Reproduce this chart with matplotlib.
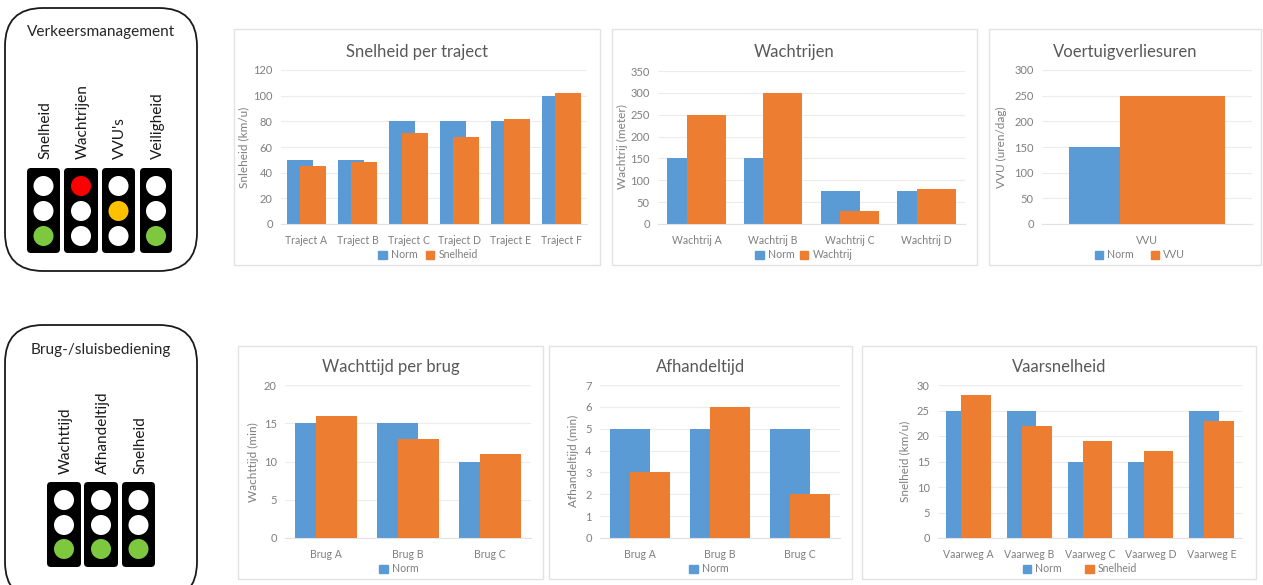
import matplotlib
matplotlib.use('Agg')
import matplotlib.pyplot as plt
from matplotlib.patches import FancyBboxPatch, Rectangle, Circle, Patch

plt.rcParams['font.family'] = ['Lato', 'DejaVu Sans']

W, H = 1263, 585
BLUE, ORANGE = '#5b9bd5', '#ed7d31'
GREY = '#7f7f7f'
TITLE = '#595959'

# data
traject = ['Traject A', 'Traject B', 'Traject C', 'Traject D', 'Traject E', 'Traject F']
traject_norm = [50, 50, 80, 80, 80, 100]
traject_snelheid = [45, 48, 71, 68, 82, 102]

wachtrij = ['Wachtrij A', 'Wachtrij B', 'Wachtrij C', 'Wachtrij D']
wachtrij_norm = [150, 150, 75, 75]
wachtrij_meter = [250, 300, 30, 80]

vvu = ['VVU']
vvu_norm = [150]
vvu_uren = [250]

brug = ['Brug A', 'Brug B', 'Brug C']
wachttijd_norm = [15, 15, 10]
wachttijd = [16, 13, 11]
afhandel_norm = [5, 5, 5]
afhandel = [3, 6, 2]

vaarweg = ['Vaarweg A', 'Vaarweg B', 'Vaarweg C', 'Vaarweg D', 'Vaarweg E']
vaarweg_norm = [25, 25, 15, 15, 25]
vaarweg_snelheid = [28, 22, 19, 17, 23]

lights_top = ['Snelheid', 'Wachtrijen', "VVU's", 'Veiligheid']
lights_top_state = ['green', 'red', 'amber', 'green']
lights_bottom = ['Wachttijd', 'Afhandeltijd', 'Snelheid']
lights_bottom_state = ['green', 'green', 'green']

fig = plt.figure(figsize=(W / 100, H / 100), dpi=100, facecolor='white')

# full-figure layer in pixel coordinates, y downwards
bg = fig.add_axes([0, 0, 1, 1], zorder=0)
bg.set_xlim(0, W)
bg.set_ylim(H, 0)
bg.axis('off')


def rounded_box(x0, y0, x1, y1, title, title_y):
    bg.add_patch(FancyBboxPatch((x0 + 38, y0 + 38), x1 - x0 - 76, y1 - y0 - 76,
                                boxstyle='round,pad=38,rounding_size=38',
                                fc='white', ec='#1a1a1a', lw=1.3))
    bg.text((x0 + x1) / 2, title_y, title, ha='center', va='center', fontsize=11.1, color='#262626')


def traffic_light(x0, x1, y0, y1, ys, state, label, label_y):
    bg.add_patch(FancyBboxPatch((x0 + 4, y0 + 4), x1 - x0 - 8, y1 - y0 - 8,
                                boxstyle='round,pad=4,rounding_size=4', fc='black', ec='none'))
    cx = (x0 + x1) / 2
    colors = {'red': ['#ff0000', 'white', 'white'],
              'amber': ['white', '#ffc000', 'white'],
              'green': ['white', 'white', '#7ec840']}[state]
    for y, c in zip(ys, colors):
        bg.add_patch(Circle((cx, y), 10, fc=c, ec='none'))
    bg.text(cx + 1.5, label_y, label, rotation=90, ha='center', va='bottom', fontsize=11.1, color='#1a1a1a')


rounded_box(5, 8, 197, 271, 'Verkeersmanagement', 32)
for (x0, x1), st, lab in zip([(27, 60), (64, 98), (102, 135), (140, 172)], lights_top_state, lights_top):
    traffic_light(x0, x1, 168, 253, [186, 211, 236], st, lab, 159)

rounded_box(5, 325, 197, 600, 'Brug-/sluisbediening', 350)
for (x0, x1), st, lab in zip([(47, 81), (84, 118), (122, 155)], lights_bottom_state, lights_bottom):
    traffic_light(x0, x1, 482, 567, [500, 525, 549], st, lab, 474)


def panel(box, plot, labels, norm, other, ymax, step, title, title_y, ylab, ylab_x, ylab_y,
          bar_frac, off_frac, legend_labels, legend_x, legend_y, colsp=0.8):
    px0, py0, px1, py1 = box
    bg.add_patch(Rectangle((px0, py0), px1 - px0, py1 - py0, fc='white', ec='#e2e2e2', lw=1))
    bg.text((px0 + px1) / 2, title_y, title, ha='center', va='center', fontsize=12, color=TITLE)
    bg.text(ylab_x, ylab_y, ylab, rotation=90, ha='center', va='center', fontsize=8.5, color=GREY)

    x0, top, x1, y0 = plot
    ax = fig.add_axes([x0 / W, 1 - y0 / H, (x1 - x0) / W, (y0 - top) / H], zorder=1)
    ax.patch.set_alpha(0)
    n = range(len(labels))
    ax.bar([i - off_frac / 2 for i in n], norm, bar_frac, color=BLUE, zorder=2)
    ax.bar([i + off_frac / 2 for i in n], other, bar_frac, color=ORANGE, zorder=3)
    ax.set_xlim(-0.5, len(labels) - 0.5)
    ax.set_ylim(0, ymax)
    ax.set_yticks(range(0, ymax + 1, step))
    ax.set_xticks(list(n))
    ax.set_xticklabels(labels)
    ax.tick_params(length=0, labelcolor=GREY)
    ax.tick_params(axis='y', pad=6, labelsize=8)
    ax.tick_params(axis='x', pad=8, labelsize=7.6)
    ax.grid(axis='y', color='#ececec', lw=0.8, zorder=0)
    ax.set_axisbelow(True)
    for s in ['top', 'left', 'right']:
        ax.spines[s].set_visible(False)
    ax.spines['bottom'].set_color('#e2e2e2')

    handles = [Patch(color=BLUE, label=legend_labels[0])]
    if len(legend_labels) > 1:
        handles.append(Patch(color=ORANGE, label=legend_labels[1]))
    leg = ax.legend(handles=handles, loc='center', ncol=2, frameon=False, fontsize=7.6,
                    labelcolor=GREY, handlelength=0.8, handleheight=0.8, handletextpad=0.4,
                    columnspacing=colsp, borderpad=0, borderaxespad=0,
                    bbox_to_anchor=(legend_x / W, 1 - legend_y / H), bbox_transform=fig.transFigure)
    return ax


panel((234, 29, 600, 265), (281, 70, 587, 224), traject, traject_norm, traject_snelheid, 120, 20,
      'Snelheid per traject', 52, 'Snleheid (km/u)', 244, 147, 0.51, 0.255,
      ['Norm', 'Snelheid'], 428, 255)
panel((612, 29, 977, 265), (658, 71, 965, 224), wachtrij, wachtrij_norm, wachtrij_meter, 350, 50,
      'Wachtrijen', 52, 'Wachtrij (meter)', 622, 147, 0.51, 0.255,
      ['Norm', 'Wachtrij'], 804, 255, colsp=0.5)
panel((989, 29, 1261, 265), (1042, 70, 1252, 224), vvu, vvu_norm, vvu_uren, 300, 50,
      'Voertuigverliesuren', 52, 'VVU (uren/dag)', 1001, 147, 0.5, 0.243,
      ['Norm', 'VVU'], 1140, 255, colsp=1.6)
panel((238, 346, 543, 579), (285, 385, 531, 538), brug, wachttijd_norm, wachttijd, 20, 5,
      'Wachttijd per brug', 367, 'Wachttijd (min)', 253, 462, 0.5, 0.25,
      ['Norm'], 399, 569)
panel((549, 346, 852, 579), (600, 385, 840, 538), brug, afhandel_norm, afhandel, 7, 1,
      'Afhandeltijd', 367, 'Afhandeltijd (min)', 573, 461, 0.51, 0.25,
      ['Norm'], 709, 569)
panel((862, 346, 1256, 579), (938, 385, 1242, 538), vaarweg, vaarweg_norm, vaarweg_snelheid, 30, 5,
      'Vaarsnelheid', 367, 'Snelheid (km/u)', 905, 461, 0.49, 0.25,
      ['Norm', 'Snelheid'], 1080, 569, colsp=2.2)

fig.savefig('out.png', dpi=100)
